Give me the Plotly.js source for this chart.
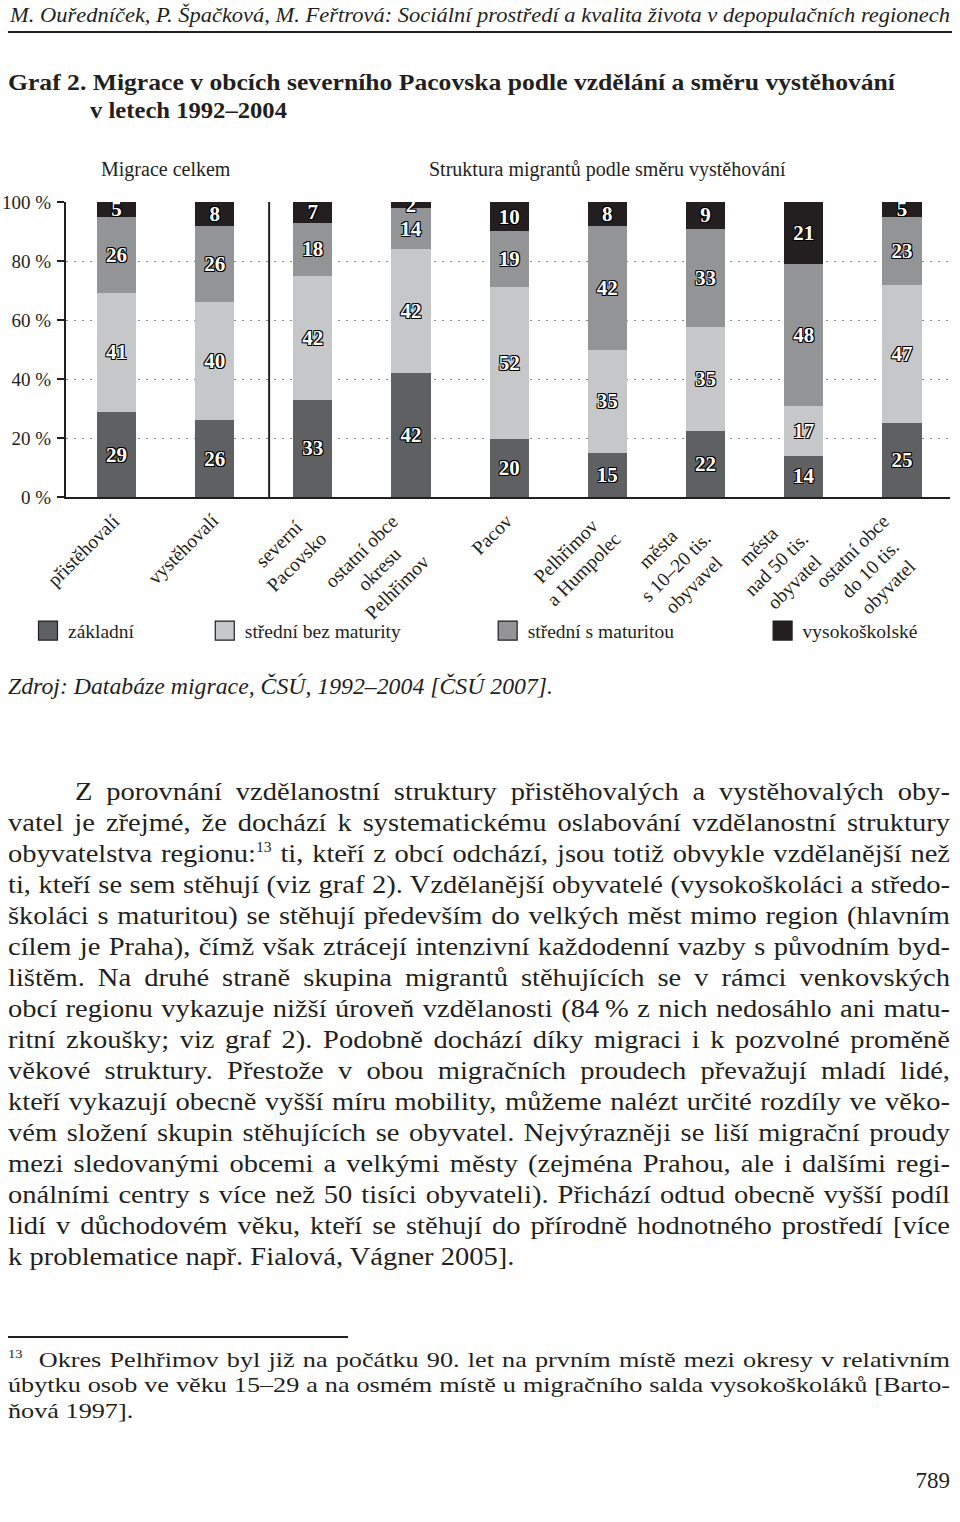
<!DOCTYPE html>
<html><head><meta charset="utf-8">
<script src="https://cdn.plot.ly/plotly-3.0.1.min.js"></script>
<style>
body{margin:0;width:960px;height:1522px;position:relative;background:#fff;overflow:hidden;font-family:"Liberation Serif","DejaVu Serif",serif;color:#231f20}
.t{position:absolute;white-space:nowrap;line-height:1;transform-origin:0 50%}
.rule{position:absolute;background:#231f20}
sup{font-size:0.55em;vertical-align:0.75em;line-height:0}
#chart{position:absolute;left:0;top:140px;width:960px;height:520px}
</style></head><body>
<div id="chart"></div>
<script>
// ---- chart data ----
const categories = ['přistěhovalí','vystěhovalí','severní<br>Pacovsko','ostatní obce<br>okresu<br>Pelhřimov','Pacov','Pelhřimov<br>a Humpolec','města<br>s 10–20 tis.<br>obyvavel','města<br>nad 50 tis.<br>obyvatel','ostatní obce<br>do 10 tis.<br>obyvatel'];
const zakladni = [29,26,33,42,20,15,22,14,25];
const stredniBezMaturity = [41,40,42,42,52,35,35,17,47];
const stredniSMaturitou = [26,26,18,14,19,42,33,48,23];
const vysokoskolske = [5,8,7,2,10,8,9,21,5];
const seriesNames = ['základní','střední bez maturity','střední s maturitou','vysokoškolské'];
const yTickVals = [0,20,40,60,80,100];
const yTickText = ['0 %','20 %','40 %','60 %','80 %','100 %'];
const groupTitles = ['Migrace celkem','Struktura migrantů podle směru vystěhování'];

const colors = ['#5f6062','#c6c7c8','#939496','#231f20'];
const seriesValues = [zakladni, stredniBezMaturity, stredniSMaturitou, vysokoskolske];
const FONT = 'Liberation Serif, DejaVu Serif, serif';
const outline = '-1px -1px 0 #000, 1px -1px 0 #000, -1px 1px 0 #000, 1px 1px 0 #000';

const legendX = [-0.043, 0.157, 0.477, 0.788];
const traces = seriesValues.map((v, i) => ({
  type: 'bar', x: categories, y: v, name: seriesNames[i],
  text: v.map(String), texttemplate: '%{text}', textposition: 'inside',
  insidetextanchor: 'middle', textangle: 0, constraintext: 'none',
  textfont: {family: FONT, size: 21, color: '#ffffff', weight: 'bold', shadow: outline},
  marker: {color: colors[i], line: {width: 0}},
  width: 0.4, hoverinfo: 'skip', showlegend: true,
  legend: i === 0 ? 'legend' : 'legend' + (i + 1)
}));

const annotations = [];
groupTitles.forEach((g, i) => {
  annotations.push({text: g, x: i === 0 ? 0.5 : 5, xref: 'x', y: 1.1085, yref: 'paper',
    xanchor: 'center', yanchor: 'middle', showarrow: false, font: {family: FONT, size: 20, color: '#231f20'}});
});
categories.forEach((c, i) => {
  const lines = c.split('<br>').length;
  annotations.push({text: c, x: i, xref: 'x', y: 0, yref: 'paper', xanchor: 'right', yanchor: 'top',
    xshift: 10 + 10 * (lines - 1), yshift: -10, textangle: -45, align: 'center', showarrow: false,
    font: {family: FONT, size: 19.5, color: '#231f20'}});
});

const legendBase = {orientation: 'h', xanchor: 'left', yanchor: 'middle', y: -0.454,
  font: {family: FONT, size: 19.5, color: '#231f20'}, bgcolor: 'rgba(0,0,0,0)', borderwidth: 0};
const layout = {
  width: 960, height: 520,
  margin: {l: 66, r: 10, t: 62, b: 163},
  paper_bgcolor: '#ffffff', plot_bgcolor: '#ffffff',
  showlegend: true,
  barmode: 'stack', barnorm: 'percent',
  uniformtext: {mode: 'show', minsize: 21},
  font: {family: FONT, color: '#231f20'},
  xaxis: {type: 'category', range: [-0.514, 8.49], showticklabels: false, ticks: '',
    showline: true, linecolor: '#231f20', linewidth: 2, showgrid: false, zeroline: false, fixedrange: true},
  yaxis: {range: [0, 100], tickvals: yTickVals, ticktext: yTickText, ticks: 'outside', ticklen: 7,
    tickwidth: 1.5, tickcolor: '#231f20', showline: true, linecolor: '#231f20', linewidth: 2,
    showgrid: true, gridcolor: '#8a8a8a', gridwidth: 1, griddash: '1.5px,6.5px', zeroline: false,
    tickfont: {family: FONT, size: 19, color: '#231f20'}, ticklabelstandoff: 2, fixedrange: true},
  shapes: [{type: 'line', xref: 'x', yref: 'y', x0: 1.555, x1: 1.555, y0: 0, y1: 100.7,
    line: {color: '#231f20', width: 2}}],
  annotations: annotations,
  legend: Object.assign({x: legendX[0]}, legendBase),
  legend2: Object.assign({x: legendX[1]}, legendBase),
  legend3: Object.assign({x: legendX[2]}, legendBase),
  legend4: Object.assign({x: legendX[3]}, legendBase)
};
Plotly.newPlot('chart', traces, layout, {displayModeBar: false, staticPlot: true}).then(gd => {
  // enlarge the legend squares and give them a dark border, as in the printed key
  gd.querySelectorAll('.legendpoints path').forEach(p => {
    p.setAttribute('d', 'M9.5,9.5H-9.5V-9.5H9.5Z');
    p.style.stroke = '#231f20';
    p.style.strokeWidth = '1.2px';
  });
});

// ---- page text ----
const headerText = 'M. Ouředníček, P. Špačková, M. Feřtrová: Sociální prostředí a kvalita života v depopulačních regionech';
const titleLines = ['Graf 2. Migrace v obcích severního Pacovska podle vzdělání a směru vystěhování', 'v letech 1992–2004'];
const sourceText = 'Zdroj: Databáze migrace, ČSÚ, 1992–2004 [ČSÚ 2007].';
const bodyLines = [
 'Z porovnání vzdělanostní struktury přistěhovalých a vystěhovalých oby-',
 'vatel je zřejmé, že dochází k systematickému oslabování vzdělanostní struktury',
 'obyvatelstva regionu:<sup>13</sup> ti, kteří z obcí odchází, jsou totiž obvykle vzdělanější než',
 'ti, kteří se sem stěhují (viz graf 2). Vzdělanější obyvatelé (vysokoškoláci a středo-',
 'školáci s maturitou) se stěhují především do velkých měst mimo region (hlavním',
 'cílem je Praha), čímž však ztrácejí intenzivní každodenní vazby s původním byd-',
 'lištěm. Na druhé straně skupina migrantů stěhujících se v rámci venkovských',
 'obcí regionu vykazuje nižší úroveň vzdělanosti (84&#8201;% z nich nedosáhlo ani matu-',
 'ritní zkoušky; viz graf 2). Podobně dochází díky migraci i k pozvolné proměně',
 'věkové struktury. Přestože v obou migračních proudech převažují mladí lidé,',
 'kteří vykazují obecně vyšší míru mobility, můžeme nalézt určité rozdíly ve věko-',
 'vém složení skupin stěhujících se obyvatel. Nejvýrazněji se liší migrační proudy',
 'mezi sledovanými obcemi a velkými městy (zejména Prahou, ale i dalšími regi-',
 'onálními centry s více než 50 tisíci obyvateli). Přichází odtud obecně vyšší podíl',
 'lidí v důchodovém věku, kteří se stěhují do přírodně hodnotného prostředí [více',
 'k problematice např. Fialová, Vágner 2005].'
];
const footLines = [
 '<sup>13</sup>&nbsp; Okres Pelhřimov byl již na počátku 90. let na prvním místě mezi okresy v relativním',
 'úbytku osob ve věku 15–29 a na osmém místě u migračního salda vysokoškoláků [Barto-',
 'ňová 1997].'
];
const pageNumber = '789';

function mk(html, size, opts) {
  const d = document.createElement('div');
  d.className = 't';
  d.innerHTML = html;
  d.style.fontSize = size + 'px';
  if (opts.italic) d.style.fontStyle = 'italic';
  if (opts.bold) d.style.fontWeight = 'bold';
  document.body.appendChild(d);
  const r = d.getBoundingClientRect();
  return {d: d, w: r.width, h: r.height};
}
function place(o, left, cy, sx) {
  o.d.style.left = left + 'px';
  o.d.style.top = (cy - o.h / 2) + 'px';
  if (sx !== 1) o.d.style.transform = 'scaleX(' + sx + ')';
}
function put(html, left, cy, size, opts) {
  opts = opts || {};
  const o = mk(html, size, opts);
  let sx = opts.width ? opts.width / o.w : 1;
  if (opts.right !== undefined) left = opts.right - o.w * sx;
  place(o, left, cy, sx);
}
// paragraph: common horizontal scale so the tightest line fits, then justify with word spacing
function paragraph(lines, size, y0, dy, lefts, widths) {
  const objs = lines.map(l => mk(l, size, {}));
  let s = Infinity;
  objs.forEach((o, i) => { if (i < objs.length - 1) s = Math.min(s, widths[i] / o.w); });
  s *= 0.995;
  objs.forEach((o, i) => {
    if (i < objs.length - 1) {
      const n = (o.d.textContent.match(/[ \u00a0]/g) || []).length;
      const extra = widths[i] / s - o.w;
      if (n && extra > 0) o.d.style.wordSpacing = (extra / n) + 'px';
    }
    place(o, lefts[i], y0 + i * dy, s);
  });
}
function rule(left, top, width, height) {
  const r = document.createElement('div');
  r.className = 'rule';
  Object.assign(r.style, {left: left + 'px', top: top + 'px', width: width + 'px', height: height + 'px'});
  document.body.appendChild(r);
}

put(headerText, 10, 15, 21, {italic: true, width: 940});
rule(8, 31, 944, 1.5);
put(titleLines[0], 8, 82, 23, {bold: true, width: 887});
put(titleLines[1], 90, 110, 23, {bold: true, width: 197});
put(sourceText, 8, 686, 23, {italic: true, width: 545});
paragraph(bodyLines, 25, 791, 31, bodyLines.map((l, i) => i === 0 ? 75 : 8), bodyLines.map((l, i) => i === 0 ? 875 : 942));
rule(8, 1336, 340, 1.5);
paragraph(footLines, 21, 1360, 25.5, footLines.map(() => 8), footLines.map(() => 942));
put(pageNumber, 0, 1480, 23, {right: 950});
</script>
</body></html>
